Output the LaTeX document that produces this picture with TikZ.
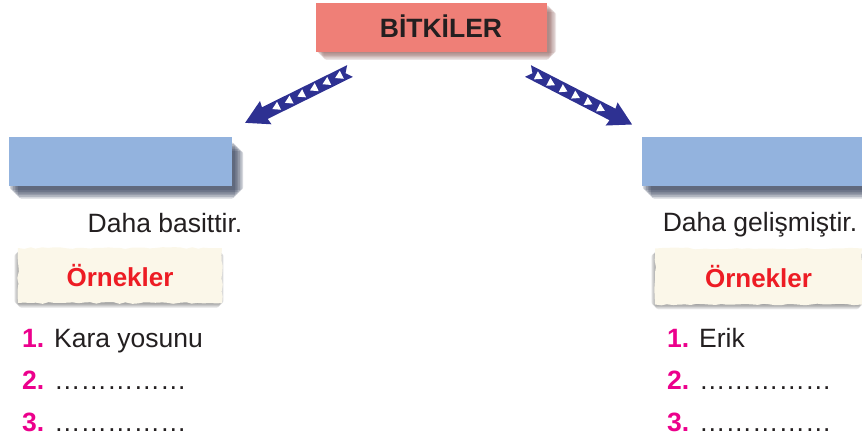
\documentclass[tikz,border=0pt]{standalone}
\usepackage{fontspec}
\setmainfont{Liberation Sans}
\usetikzlibrary{decorations.pathmorphing}
\pgfdeclarelayer{bg}
\pgfsetlayers{bg,main}
\definecolor{salmon}{RGB}{239,127,119}
\definecolor{boxblue}{RGB}{147,179,222}
\definecolor{arrowblue}{RGB}{46,49,146}
\definecolor{redtxt}{RGB}{237,28,36}
\definecolor{numpink}{RGB}{236,0,140}
\definecolor{txt}{RGB}{35,31,32}
\definecolor{cream}{RGB}{251,247,233}
\definecolor{blueshadow}{RGB}{40,52,80}
\definecolor{redshadow}{RGB}{110,50,45}
\newcommand\numb[1]{\textcolor{numpink}{\bfseries #1}}
% soft shadow: node, colour, dx, dy, spread, opacity per layer
\newcommand\boxshadow[6]{%
  \begin{pgfonlayer}{bg}
  \foreach \i in {1,...,6}{%
    \fill[#2, opacity=#6, rounded corners=3pt]
      ([shift={({#3-\i*#5/6+#5/2},{#4+\i*#5/6-#5/2})}]#1.south west) rectangle
      ([shift={({#3+\i*#5/6-#5/2},{#4-\i*#5/6+#5/2})}]#1.north east);
  }%
  \end{pgfonlayer}}
\begin{document}
\begin{tikzpicture}[x=1pt,y=1pt,
  body/.style={text=txt, font=\fontsize{26.5}{31}\selectfont, inner sep=0pt},
  titlebox/.style={fill=salmon, minimum width=231pt, minimum height=49pt, inner sep=0pt},
  bluebox/.style={fill=boxblue, minimum height=49pt, inner sep=0pt},
  examplebox/.style={fill=cream, inner sep=0pt, text=redtxt, font=\bfseries\fontsize{26}{31}\selectfont,
    decorate, decoration={random steps, segment length=6pt, amplitude=0.9pt}},
  pics/fletch/.style={code={
    \fill[arrowblue] (0,6.5) -- (95,6.5) -- (94,13) -- (117,0) -- (94,-13) -- (95,-6.5) -- (0,-6.5) -- (5,0) -- cycle;
    \foreach \x in {9,23,37,51,65,79}
      \fill[white] (\x,-4.8) -- (\x+7.5,-0.3) -- (\x,4.2) -- cycle;
  }}
]
\useasboundingbox (0,0) rectangle (862,-442);

% title
\node[titlebox] (title) at (431.5,-27.5) {};
\boxshadow{title}{redshadow}{5}{-5}{8}{0.13}
\node[text=txt, font=\bfseries\fontsize{26.5}{31}\selectfont, anchor=base, inner sep=0pt] (titletext) at (441,-37) {BİTKİLER};

% blue boxes
\node[bluebox, minimum width=223pt] (lbox) at (120.5,-161.5) {};
\node[bluebox, minimum width=240pt] (rbox) at (762,-161.5) {};
\boxshadow{lbox}{blueshadow}{6}{-9}{10}{0.2}
\boxshadow{rbox}{blueshadow}{6}{-9}{10}{0.2}

% arrows
\coordinate (lt) at (350,-71);
\coordinate (rt) at (528,-71);
\pic[rotate=206.3] at (lt) {fletch};
\pic[rotate=-27.2] at (rt) {fletch};

% descriptions
\node[body, anchor=base] (ldesc) at (165,-232) {Daha basittir.};
\node[body, anchor=base] (rdesc) at (760,-231) {Daha gelişmiştir.};

% example boxes
\node[examplebox, minimum width=204pt, minimum height=55pt] (lex) at (120,-275.5) {Örnekler};
\node[examplebox, minimum width=207pt, minimum height=56pt] (rex) at (758.5,-276.5) {Örnekler};
\boxshadow{lex}{black}{-1}{-3}{5}{0.07}
\boxshadow{rex}{black}{-1}{-3}{5}{0.07}

% lists
\node[body, anchor=base west] (l1) at (22,-347) {\numb{1.} Kara yosunu};
\node[body, anchor=base west] (l2) at (22,-389) {\numb{2.} ……………};
\node[body, anchor=base west] (l3) at (22,-431) {\numb{3.} ……………};
\node[body, anchor=base west] (r1) at (667,-347) {\numb{1.} Erik};
\node[body, anchor=base west] (r2) at (667,-389) {\numb{2.} ……………};
\node[body, anchor=base west] (r3) at (667,-431) {\numb{3.} ……………};
\end{tikzpicture}
\end{document}
